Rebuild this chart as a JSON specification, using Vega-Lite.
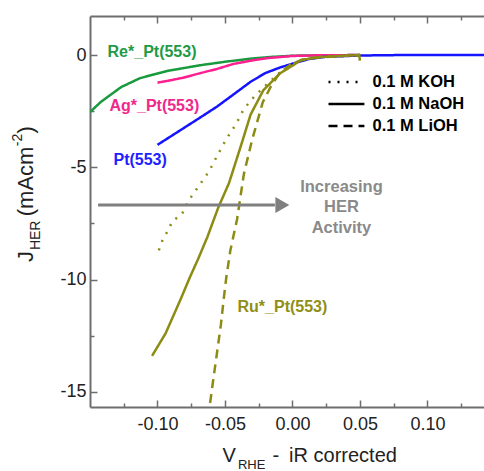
{
  "$schema": "https://vega.github.io/schema/vega-lite/v6.json",
  "width": 394,
  "height": 391,
  "autosize": {"type": "none"},
  "padding": {"left": 90, "top": 16, "right": 0, "bottom": 64},
  "config": {
    "view": {"stroke": null},
    "font": "Liberation Sans",
    "axis": {"grid": false, "domainColor": "#6e6e6e", "domainWidth": 2, "tickColor": "#6e6e6e", "tickWidth": 1.5, "labelFont": "Liberation Sans", "labelFontSize": 18, "labelColor": "#222222", "title": null}
  },
  "datasets": {
    "one": [{}],
    "curves": [
      {"cat": "Re", "el": "0.1 M NaOH", "v": -0.150, "j": -2.54},
      {"cat": "Re", "el": "0.1 M NaOH", "v": -0.142, "j": -2.09},
      {"cat": "Re", "el": "0.1 M NaOH", "v": -0.127, "j": -1.43},
      {"cat": "Re", "el": "0.1 M NaOH", "v": -0.113, "j": -1.03},
      {"cat": "Re", "el": "0.1 M NaOH", "v": -0.093, "j": -0.71},
      {"cat": "Re", "el": "0.1 M NaOH", "v": -0.068, "j": -0.45},
      {"cat": "Re", "el": "0.1 M NaOH", "v": -0.050, "j": -0.30},
      {"cat": "Re", "el": "0.1 M NaOH", "v": -0.031, "j": -0.16},
      {"cat": "Re", "el": "0.1 M NaOH", "v": -0.015, "j": -0.08},
      {"cat": "Re", "el": "0.1 M NaOH", "v": 0.000, "j": -0.03},
      {"cat": "Re", "el": "0.1 M NaOH", "v": 0.020, "j": -0.01},
      {"cat": "Re", "el": "0.1 M NaOH", "v": 0.050, "j": 0.0},
      {"cat": "Ag", "el": "0.1 M NaOH", "v": -0.100, "j": -1.23},
      {"cat": "Ag", "el": "0.1 M NaOH", "v": -0.090, "j": -1.12},
      {"cat": "Ag", "el": "0.1 M NaOH", "v": -0.081, "j": -1.01},
      {"cat": "Ag", "el": "0.1 M NaOH", "v": -0.068, "j": -0.80},
      {"cat": "Ag", "el": "0.1 M NaOH", "v": -0.056, "j": -0.62},
      {"cat": "Ag", "el": "0.1 M NaOH", "v": -0.044, "j": -0.40},
      {"cat": "Ag", "el": "0.1 M NaOH", "v": -0.030, "j": -0.24},
      {"cat": "Ag", "el": "0.1 M NaOH", "v": -0.019, "j": -0.14},
      {"cat": "Ag", "el": "0.1 M NaOH", "v": 0.000, "j": -0.04},
      {"cat": "Ag", "el": "0.1 M NaOH", "v": 0.020, "j": -0.01},
      {"cat": "Ag", "el": "0.1 M NaOH", "v": 0.050, "j": 0.0},
      {"cat": "Pt", "el": "0.1 M NaOH", "v": -0.100, "j": -4.00},
      {"cat": "Pt", "el": "0.1 M NaOH", "v": -0.081, "j": -3.27},
      {"cat": "Pt", "el": "0.1 M NaOH", "v": -0.068, "j": -2.77},
      {"cat": "Pt", "el": "0.1 M NaOH", "v": -0.056, "j": -2.30},
      {"cat": "Pt", "el": "0.1 M NaOH", "v": -0.044, "j": -1.77},
      {"cat": "Pt", "el": "0.1 M NaOH", "v": -0.031, "j": -1.19},
      {"cat": "Pt", "el": "0.1 M NaOH", "v": -0.020, "j": -0.80},
      {"cat": "Pt", "el": "0.1 M NaOH", "v": -0.009, "j": -0.55},
      {"cat": "Pt", "el": "0.1 M NaOH", "v": 0.0035, "j": -0.32},
      {"cat": "Pt", "el": "0.1 M NaOH", "v": 0.012, "j": -0.18},
      {"cat": "Pt", "el": "0.1 M NaOH", "v": 0.024, "j": -0.08},
      {"cat": "Pt", "el": "0.1 M NaOH", "v": 0.050, "j": -0.02},
      {"cat": "Pt", "el": "0.1 M NaOH", "v": 0.080, "j": 0.0},
      {"cat": "Pt", "el": "0.1 M NaOH", "v": 0.142, "j": 0.0},
      {"cat": "Ru", "el": "0.1 M NaOH", "v": -0.104, "j": -13.4},
      {"cat": "Ru", "el": "0.1 M NaOH", "v": -0.094, "j": -12.4},
      {"cat": "Ru", "el": "0.1 M NaOH", "v": -0.083, "j": -10.9},
      {"cat": "Ru", "el": "0.1 M NaOH", "v": -0.076, "j": -9.9},
      {"cat": "Ru", "el": "0.1 M NaOH", "v": -0.070, "j": -9.1},
      {"cat": "Ru", "el": "0.1 M NaOH", "v": -0.063, "j": -8.1},
      {"cat": "Ru", "el": "0.1 M NaOH", "v": -0.055, "j": -6.8},
      {"cat": "Ru", "el": "0.1 M NaOH", "v": -0.047, "j": -5.7},
      {"cat": "Ru", "el": "0.1 M NaOH", "v": -0.0385, "j": -4.1},
      {"cat": "Ru", "el": "0.1 M NaOH", "v": -0.031, "j": -2.65},
      {"cat": "Ru", "el": "0.1 M NaOH", "v": -0.0215, "j": -1.56},
      {"cat": "Ru", "el": "0.1 M NaOH", "v": -0.0089, "j": -0.80},
      {"cat": "Ru", "el": "0.1 M NaOH", "v": 0.0007, "j": -0.45},
      {"cat": "Ru", "el": "0.1 M NaOH", "v": 0.006, "j": -0.22},
      {"cat": "Ru", "el": "0.1 M NaOH", "v": 0.021, "j": -0.09},
      {"cat": "Ru", "el": "0.1 M NaOH", "v": 0.050, "j": 0.0},
      {"cat": "Ru", "el": "0.1 M KOH", "v": -0.099, "j": -8.7},
      {"cat": "Ru", "el": "0.1 M KOH", "v": -0.096, "j": -8.2},
      {"cat": "Ru", "el": "0.1 M KOH", "v": -0.092, "j": -7.8},
      {"cat": "Ru", "el": "0.1 M KOH", "v": -0.089, "j": -7.4},
      {"cat": "Ru", "el": "0.1 M KOH", "v": -0.082, "j": -7.1},
      {"cat": "Ru", "el": "0.1 M KOH", "v": -0.076, "j": -6.4},
      {"cat": "Ru", "el": "0.1 M KOH", "v": -0.069, "j": -5.8},
      {"cat": "Ru", "el": "0.1 M KOH", "v": -0.062, "j": -5.2},
      {"cat": "Ru", "el": "0.1 M KOH", "v": -0.055, "j": -4.4},
      {"cat": "Ru", "el": "0.1 M KOH", "v": -0.049, "j": -3.74},
      {"cat": "Ru", "el": "0.1 M KOH", "v": -0.042, "j": -3.1},
      {"cat": "Ru", "el": "0.1 M KOH", "v": -0.036, "j": -2.4},
      {"cat": "Ru", "el": "0.1 M KOH", "v": -0.029, "j": -1.9},
      {"cat": "Ru", "el": "0.1 M KOH", "v": -0.022, "j": -1.47},
      {"cat": "Ru", "el": "0.1 M KOH", "v": -0.009, "j": -0.76},
      {"cat": "Ru", "el": "0.1 M KOH", "v": 0.000, "j": -0.40},
      {"cat": "Ru", "el": "0.1 M KOH", "v": 0.010, "j": -0.15},
      {"cat": "Ru", "el": "0.1 M KOH", "v": 0.025, "j": -0.04},
      {"cat": "Ru", "el": "0.1 M KOH", "v": 0.050, "j": 0.0},
      {"cat": "Ru", "el": "0.1 M LiOH", "v": -0.061, "j": -15.5},
      {"cat": "Ru", "el": "0.1 M LiOH", "v": -0.059, "j": -14.6},
      {"cat": "Ru", "el": "0.1 M LiOH", "v": -0.056, "j": -13.3},
      {"cat": "Ru", "el": "0.1 M LiOH", "v": -0.053, "j": -12.0},
      {"cat": "Ru", "el": "0.1 M LiOH", "v": -0.051, "j": -10.9},
      {"cat": "Ru", "el": "0.1 M LiOH", "v": -0.049, "j": -9.9},
      {"cat": "Ru", "el": "0.1 M LiOH", "v": -0.046, "j": -8.7},
      {"cat": "Ru", "el": "0.1 M LiOH", "v": -0.041, "j": -7.3},
      {"cat": "Ru", "el": "0.1 M LiOH", "v": -0.0385, "j": -6.3},
      {"cat": "Ru", "el": "0.1 M LiOH", "v": -0.036, "j": -5.3},
      {"cat": "Ru", "el": "0.1 M LiOH", "v": -0.030, "j": -3.8},
      {"cat": "Ru", "el": "0.1 M LiOH", "v": -0.022, "j": -2.1},
      {"cat": "Ru", "el": "0.1 M LiOH", "v": -0.016, "j": -1.4},
      {"cat": "Ru", "el": "0.1 M LiOH", "v": -0.0096, "j": -0.8},
      {"cat": "Ru", "el": "0.1 M LiOH", "v": 0.000, "j": -0.36},
      {"cat": "Ru", "el": "0.1 M LiOH", "v": 0.0126, "j": -0.13},
      {"cat": "Ru", "el": "0.1 M LiOH", "v": 0.037, "j": -0.04},
      {"cat": "Ru", "el": "0.1 M LiOH", "v": 0.0495, "j": 0.0},
      {"cat": "Ru", "el": "0.1 M LiOH", "v": 0.050, "j": -0.3}
    ]
  },
  "resolve": {"axis": {"x": "independent", "y": "independent"}},
  "layer": [
    {
      "data": {"name": "curves"},
      "mark": {"type": "line", "strokeWidth": 2.5, "clip": true},
      "encoding": {
        "x": {"field": "v", "type": "quantitative",
          "scale": {"domain": [-0.15, 0.1419], "nice": false, "zero": false},
          "axis": {"orient": "bottom", "values": [-0.125, -0.1, -0.075, -0.05, -0.025, 0, 0.025, 0.05, 0.075, 0.1, 0.125],
            "labelExpr": "abs(round(datum.value*20) - datum.value*20) > 0.1 ? '' : replace(format(datum.value, '.2f'), '\u2212', '-')",
            "tickSize": {"condition": {"test": "abs(round(datum.value*20) - datum.value*20) > 0.1", "value": -4}, "value": -7},
            "labelPadding": 15, "labelFlush": false, "labelOverlap": false}},
        "y": {"field": "j", "type": "quantitative",
          "scale": {"domain": [-15.68, 1.74], "nice": false, "zero": false},
          "axis": {"orient": "left", "values": [-15, -12.5, -10, -7.5, -5, -2.5, 0],
            "labelExpr": "datum.value % 5 == 0 ? '' + datum.value : ''",
            "tickSize": {"condition": {"test": "datum.value % 5 != 0", "value": -4}, "value": -7},
            "labelPadding": 11, "labelOverlap": false}},
        "color": {"field": "cat", "type": "nominal",
          "scale": {"domain": ["Re", "Ag", "Pt", "Ru"], "range": ["#1a9a3e", "#ff1f8f", "#1414ff", "#8c8c14"]},
          "legend": null},
        "strokeDash": {"field": "el", "type": "nominal",
          "scale": {"domain": ["0.1 M KOH", "0.1 M NaOH", "0.1 M LiOH"], "range": [[2, 7], [1, 0], [9, 6]]},
          "legend": null}
      }
    },
    {
      "data": {"name": "one"},
      "mark": {"type": "rule", "color": "#7f7f7f", "strokeWidth": 3},
      "encoding": {
        "x": {"datum": -0.144, "type": "quantitative",
          "axis": {"orient": "top", "values": [-0.125, -0.1, -0.075, -0.05, -0.025, 0, 0.025, 0.05, 0.075, 0.1, 0.125], "labels": false,
            "tickSize": {"condition": {"test": "abs(round(datum.value*20) - datum.value*20) > 0.1", "value": -4}, "value": -7}}},
        "x2": {"datum": -0.013},
        "y": {"datum": -6.68, "type": "quantitative", "axis": null}
      }
    },
    {
      "data": {"name": "one"},
      "mark": {"type": "point", "shape": "triangle-right", "filled": true, "color": "#7f7f7f", "size": 260, "opacity": 1},
      "encoding": {
        "x": {"datum": -0.0075, "type": "quantitative", "axis": null},
        "y": {"datum": -6.68, "type": "quantitative", "axis": null}
      }
    },
    {
      "data": {"name": "one"},
      "mark": {"type": "rule", "color": "black", "strokeWidth": 2.5},
      "encoding": {
        "x": {"datum": 0.0267, "type": "quantitative", "axis": null}, "x2": {"datum": 0.0533},
        "y": {"datum": -1.203, "type": "quantitative", "axis": null},
        "strokeDash": {"datum": "0.1 M KOH", "type": "nominal", "legend": null}
      }
    },
    {
      "data": {"name": "one"},
      "mark": {"type": "rule", "color": "black", "strokeWidth": 2.5},
      "encoding": {
        "x": {"datum": 0.0267, "type": "quantitative", "axis": null}, "x2": {"datum": 0.0533},
        "y": {"datum": -2.184, "type": "quantitative", "axis": null},
        "strokeDash": {"datum": "0.1 M NaOH", "type": "nominal", "legend": null}
      }
    },
    {
      "data": {"name": "one"},
      "mark": {"type": "rule", "color": "black", "strokeWidth": 2.5},
      "encoding": {
        "x": {"datum": 0.0267, "type": "quantitative", "axis": null}, "x2": {"datum": 0.0533},
        "y": {"datum": -3.164, "type": "quantitative", "axis": null},
        "strokeDash": {"datum": "0.1 M LiOH", "type": "nominal", "legend": null}
      }
    },
    {
      "data": {"name": "one"},
      "mark": {"type": "text", "text": "0.1 M KOH", "font": "Liberation Sans", "fontWeight": "bold", "fontSize": 16.5, "color": "black", "align": "left", "baseline": "middle"},
      "encoding": {"x": {"datum": 0.0593, "type": "quantitative", "axis": null}, "y": {"datum": -1.203, "type": "quantitative", "axis": null}}
    },
    {
      "data": {"name": "one"},
      "mark": {"type": "text", "text": "0.1 M NaOH", "font": "Liberation Sans", "fontWeight": "bold", "fontSize": 16.5, "color": "black", "align": "left", "baseline": "middle"},
      "encoding": {"x": {"datum": 0.0593, "type": "quantitative", "axis": null}, "y": {"datum": -2.184, "type": "quantitative", "axis": null}}
    },
    {
      "data": {"name": "one"},
      "mark": {"type": "text", "text": "0.1 M LiOH", "font": "Liberation Sans", "fontWeight": "bold", "fontSize": 16.5, "color": "black", "align": "left", "baseline": "middle"},
      "encoding": {"x": {"datum": 0.0593, "type": "quantitative", "axis": null}, "y": {"datum": -3.164, "type": "quantitative", "axis": null}}
    },
    {
      "data": {"name": "one"},
      "mark": {"type": "text", "text": ["Increasing", "HER", "Activity"], "font": "Liberation Sans", "fontWeight": "bold", "fontSize": 16.5, "color": "#8a8a8a", "align": "center", "baseline": "middle", "lineHeight": 20.5},
      "encoding": {"x": {"datum": 0.0363, "type": "quantitative", "axis": null}, "y": {"datum": -5.86, "type": "quantitative", "axis": null}}
    },
    {
      "data": {"name": "one"},
      "mark": {"type": "text", "text": "Re*_Pt(553)", "font": "Liberation Sans", "fontWeight": "bold", "fontSize": 16, "color": "#1f9a46", "align": "left", "baseline": "middle"},
      "encoding": {"x": {"datum": -0.137, "type": "quantitative", "axis": null}, "y": {"datum": 0.13, "type": "quantitative", "axis": null}}
    },
    {
      "data": {"name": "one"},
      "mark": {"type": "text", "text": "Ag*_Pt(553)", "font": "Liberation Sans", "fontWeight": "bold", "fontSize": 16, "color": "#f0288c", "align": "left", "baseline": "middle"},
      "encoding": {"x": {"datum": -0.1356, "type": "quantitative", "axis": null}, "y": {"datum": -2.27, "type": "quantitative", "axis": null}}
    },
    {
      "data": {"name": "one"},
      "mark": {"type": "text", "text": "Pt(553)", "font": "Liberation Sans", "fontWeight": "bold", "fontSize": 16, "color": "#1f1fff", "align": "left", "baseline": "middle"},
      "encoding": {"x": {"datum": -0.1326, "type": "quantitative", "axis": null}, "y": {"datum": -4.68, "type": "quantitative", "axis": null}}
    },
    {
      "data": {"name": "one"},
      "mark": {"type": "text", "text": "Ru*_Pt(553)", "font": "Liberation Sans", "fontWeight": "bold", "fontSize": 16, "color": "#8f8f16", "align": "left", "baseline": "middle"},
      "encoding": {"x": {"datum": -0.0407, "type": "quantitative", "axis": null}, "y": {"datum": -11.23, "type": "quantitative", "axis": null}}
    },
    {
      "data": {"name": "one"},
      "mark": {"type": "text", "text": "V", "font": "Liberation Sans", "fontSize": 20, "color": "#222222", "align": "left", "baseline": "alphabetic"},
      "encoding": {"x": {"datum": -0.0519, "type": "quantitative", "axis": null}, "y": {"datum": -18.14, "type": "quantitative", "axis": null}}
    },
    {
      "data": {"name": "one"},
      "mark": {"type": "text", "text": "RHE", "font": "Liberation Sans", "fontSize": 13, "color": "#222222", "align": "left", "baseline": "alphabetic"},
      "encoding": {"x": {"datum": -0.0404, "type": "quantitative", "axis": null}, "y": {"datum": -18.42, "type": "quantitative", "axis": null}}
    },
    {
      "data": {"name": "one"},
      "mark": {"type": "text", "text": "-", "font": "Liberation Sans", "fontSize": 20, "color": "#222222", "align": "left", "baseline": "alphabetic"},
      "encoding": {"x": {"datum": -0.0148, "type": "quantitative", "axis": null}, "y": {"datum": -18.14, "type": "quantitative", "axis": null}}
    },
    {
      "data": {"name": "one"},
      "mark": {"type": "text", "text": "iR corrected", "font": "Liberation Sans", "fontSize": 20, "color": "#222222", "align": "left", "baseline": "alphabetic"},
      "encoding": {"x": {"datum": -0.0025, "type": "quantitative", "axis": null}, "y": {"datum": -18.14, "type": "quantitative", "axis": null}}
    },
    {
      "data": {"name": "one"},
      "mark": {"type": "text", "text": "J", "font": "Liberation Sans", "fontSize": 22, "color": "#222222", "align": "left", "baseline": "alphabetic", "angle": 270},
      "encoding": {"x": {"datum": -0.1919, "type": "quantitative", "axis": null}, "y": {"datum": -9.22, "type": "quantitative", "axis": null}}
    },
    {
      "data": {"name": "one"},
      "mark": {"type": "text", "text": "HER", "font": "Liberation Sans", "fontSize": 14, "color": "#222222", "align": "left", "baseline": "alphabetic", "angle": 270},
      "encoding": {"x": {"datum": -0.1867, "type": "quantitative", "axis": null}, "y": {"datum": -8.69, "type": "quantitative", "axis": null}}
    },
    {
      "data": {"name": "one"},
      "mark": {"type": "text", "text": "(mAcm", "font": "Liberation Sans", "fontSize": 22, "color": "#222222", "align": "left", "baseline": "alphabetic", "angle": 270},
      "encoding": {"x": {"datum": -0.1919, "type": "quantitative", "axis": null}, "y": {"datum": -7.18, "type": "quantitative", "axis": null}}
    },
    {
      "data": {"name": "one"},
      "mark": {"type": "text", "text": "-2", "font": "Liberation Sans", "fontSize": 14, "color": "#222222", "align": "left", "baseline": "alphabetic", "angle": 270},
      "encoding": {"x": {"datum": -0.2004, "type": "quantitative", "axis": null}, "y": {"datum": -4.06, "type": "quantitative", "axis": null}}
    },
    {
      "data": {"name": "one"},
      "mark": {"type": "text", "text": ")", "font": "Liberation Sans", "fontSize": 22, "color": "#222222", "align": "left", "baseline": "alphabetic", "angle": 270},
      "encoding": {"x": {"datum": -0.1919, "type": "quantitative", "axis": null}, "y": {"datum": -3.5, "type": "quantitative", "axis": null}}
    }
  ]
}
